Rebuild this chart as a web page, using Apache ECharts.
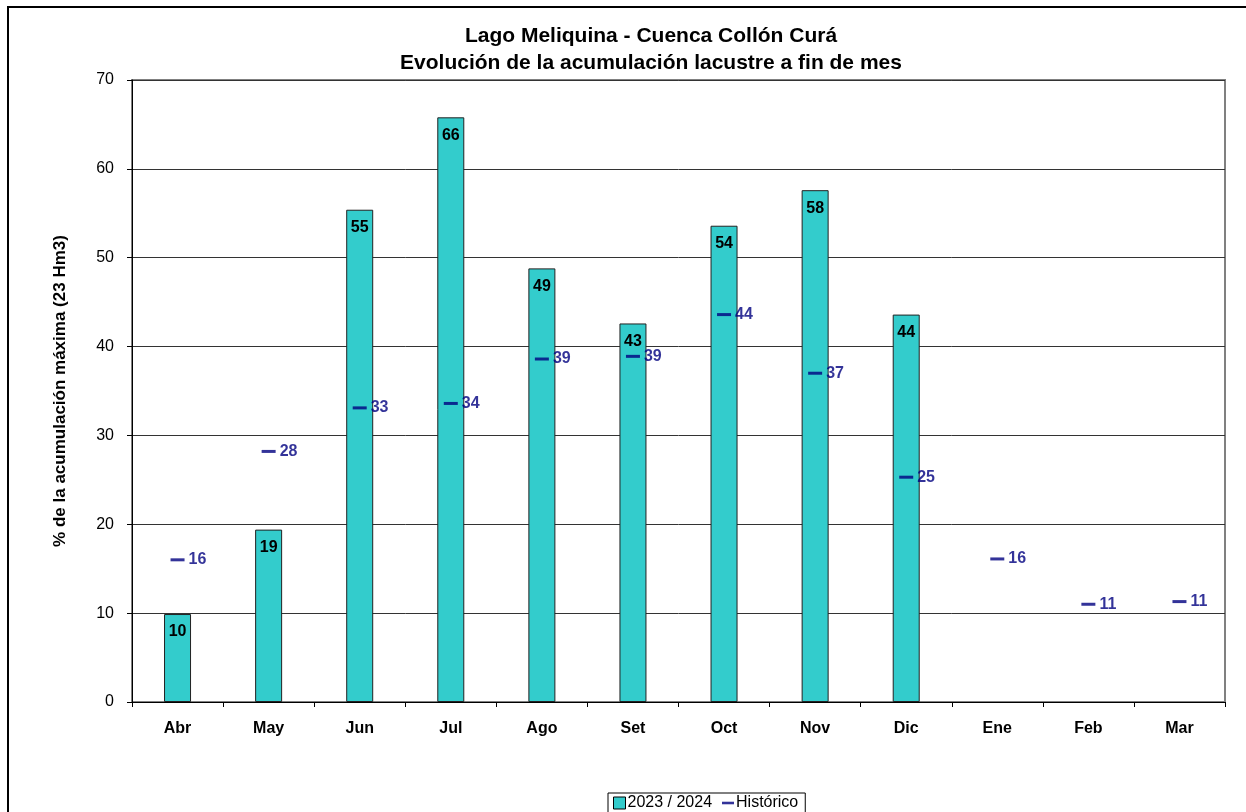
<!DOCTYPE html>
<html>
<head>
<meta charset="utf-8">
<script src="https://cdn.jsdelivr.net/npm/echarts@6/dist/echarts.min.js"></script>
<style>
html,body{margin:0;padding:0;background:#fff;}
#frame{position:absolute;left:7px;top:6px;width:1300px;height:900px;border-left:2px solid #000;border-top:2px solid #000;box-sizing:border-box;}
#chart{position:absolute;left:0;top:0;width:1246px;height:812px;}
</style>
</head>
<body>
<div id="frame"></div>
<div id="chart"></div>
<script>
const categories = ['Abr','May','Jun','Jul','Ago','Set','Oct','Nov','Dic','Ene','Feb','Mar'];
const actual = [9.9, 19.4, 55.4, 65.8, 48.8, 42.6, 53.6, 57.6, 43.6, null, null, null];
const historico = [16.0, 28.2, 33.1, 33.6, 38.6, 38.9, 43.6, 37.0, 25.3, 16.1, 11.0, 11.3];
const yTicks = {min: 0, max: 70, interval: 10};

const chart = echarts.init(document.getElementById('chart'));
const fam = 'Liberation Sans, Arial, sans-serif';
chart.setOption({
  animation: false,
  textStyle: {fontFamily: fam},
  title: {
    text: 'Lago Meliquina - Cuenca Collón Curá\nEvolución de la acumulación lacustre a fin de mes',
    left: 646, top: 18, textAlign: 'center',
    textStyle: {fontFamily: fam, fontWeight: 'bold', fontSize: 21, color: '#000', lineHeight: 27}
  },
  legend: {
    top: 793, left: 608,
    borderColor: '#000', borderWidth: 1, padding: [2, 7, 2, 5],
    itemWidth: 12, itemHeight: 12, itemGap: 10,
    textStyle: {fontFamily: fam, fontSize: 16, color: '#000', padding: [0, 0, 0, -3]},
    symbolKeepAspect: true,
    data: [
      {name: '2023 / 2024', icon: 'rect', itemStyle: {color: '#33CCCC', borderColor: '#000', borderWidth: 1}},
      {name: 'Histórico', icon: 'path://M0,0h14v3h-14z', itemStyle: {color: '#000080'}}
    ]
  },
  grid: {left: 132, right: 21, top: 80, bottom: 110, show: true, borderColor: '#808080', borderWidth: 2, backgroundColor: 'transparent'},
  xAxis: {
    type: 'category', data: categories,
    axisLine: {lineStyle: {color: '#000', width: 1}},
    axisTick: {show: true, length: 5, lineStyle: {color: '#000'}},
    axisLabel: {fontFamily: fam, fontWeight: 'bold', fontSize: 16, color: '#000', margin: 19}
  },
  yAxis: {
    type: 'value', min: yTicks.min, max: yTicks.max, interval: yTicks.interval,
    name: '% de la acumulación máxima (23 Hm3)', nameLocation: 'middle', nameGap: 63,
    nameTextStyle: {fontFamily: fam, fontWeight: 'bold', fontSize: 17, color: '#000'},
    axisLine: {show: true, lineStyle: {color: '#000'}},
    axisTick: {show: true, length: 5, lineStyle: {color: '#000'}},
    axisLabel: {fontFamily: fam, fontSize: 16, color: '#000', margin: 18},
    splitLine: {lineStyle: {color: '#333', width: 1}}
  },
  series: [
    {
      name: '2023 / 2024', type: 'bar', data: actual, barWidth: 27,
      itemStyle: {color: '#33CCCC', borderColor: '#222', borderWidth: 1},
      label: {show: true, position: 'insideTop', distance: 10, fontFamily: fam, fontWeight: 'bold', fontSize: 16, color: '#000',
        formatter: p => Math.round(p.value)},
      z: 2
    },
    {
      name: 'Histórico', type: 'scatter', data: historico,
      symbol: 'rect', symbolSize: [14, 3],
      itemStyle: {color: '#000080'},
      label: {show: true, position: 'right', distance: 4, fontFamily: fam, fontWeight: 'bold', fontSize: 16, color: '#000080',
        formatter: p => Math.round(p.value)},
      z: 5
    }
  ]
});
</script>
</body>
</html>
